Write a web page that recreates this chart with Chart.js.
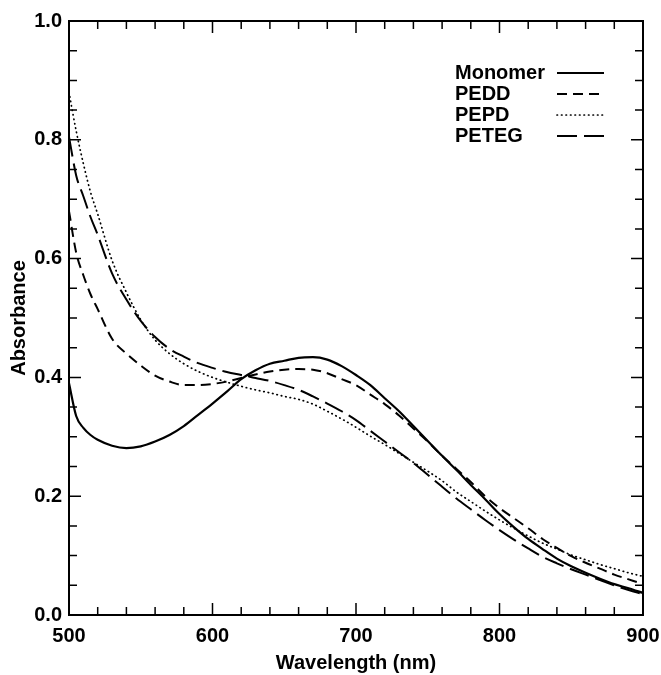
<!DOCTYPE html>
<html><head><meta charset="utf-8">
<script src="https://cdn.jsdelivr.net/npm/chart.js@4.4.1/dist/chart.umd.min.js"></script>
<style>html,body{margin:0;padding:0;background:#fff}canvas{display:block}</style>
</head><body>
<canvas id="c" width="661" height="675"></canvas>
<script>
const wavelengths = [500,505,510,515,520,530,540,550,560,570,580,590,600,610,620,630,640,650,660,670,680,690,700,710,720,730,740,750,760,770,780,790,800,810,820,830,840,850,860,870,880,890,900];
const monomer = [0.39,0.335,0.315,0.303,0.295,0.285,0.281,0.284,0.292,0.303,0.318,0.337,0.356,0.376,0.397,0.412,0.423,0.428,0.433,0.434,0.430,0.419,0.404,0.387,0.365,0.343,0.318,0.293,0.268,0.244,0.219,0.195,0.170,0.148,0.128,0.111,0.095,0.082,0.071,0.061,0.052,0.045,0.037];
const pedd = [0.68,0.61,0.572,0.54,0.515,0.465,0.44,0.42,0.403,0.393,0.387,0.387,0.389,0.393,0.399,0.405,0.410,0.413,0.414,0.413,0.407,0.397,0.387,0.371,0.355,0.336,0.314,0.292,0.268,0.246,0.224,0.200,0.180,0.163,0.146,0.128,0.113,0.099,0.088,0.078,0.068,0.060,0.052];
const pepd = [0.88,0.815,0.76,0.712,0.675,0.597,0.543,0.497,0.463,0.440,0.423,0.410,0.400,0.392,0.385,0.379,0.374,0.368,0.363,0.355,0.343,0.330,0.316,0.301,0.287,0.272,0.257,0.242,0.226,0.207,0.191,0.175,0.160,0.146,0.133,0.121,0.111,0.101,0.093,0.085,0.078,0.071,0.065];
const peteg = [0.805,0.74,0.705,0.67,0.64,0.575,0.531,0.495,0.468,0.448,0.435,0.424,0.416,0.409,0.404,0.399,0.394,0.387,0.379,0.368,0.356,0.343,0.328,0.310,0.292,0.274,0.256,0.236,0.216,0.196,0.178,0.160,0.143,0.127,0.112,0.098,0.087,0.077,0.068,0.059,0.050,0.042,0.035];
const seriesNames = ['Monomer','PEDD','PEPD','PETEG'];
const xTickLabels = [500,600,700,800,900];
const yTickLabels = [0.0,0.2,0.4,0.6,0.8,1.0];
const xMinorStep = 20;
const yMinorStep = 0.05;

const FONT = "'Liberation Sans', Arial, Helvetica, sans-serif";
const FS = 20;
const pts = arr => wavelengths.map((w,i)=>({x:w,y:arr[i]}));
const styles = [
  {borderDash:[], borderWidth:2.2},
  {borderDash:[10,6], borderWidth:2},
  {borderDash:[0.5,4], borderWidth:1.7, borderCapStyle:'round'},
  {borderDash:[20,7], borderWidth:2}
];
const seriesData = [monomer, pedd, pepd, peteg];
const datasets = seriesData.map((d,i)=>Object.assign({
  label: seriesNames[i], data: pts(d), borderColor:'#000', backgroundColor:'#000',
  pointRadius:0, fill:false, cubicInterpolationMode:'monotone'
}, styles[i]));

const framePlugin = {
  id:'frame',
  afterDraw(chart){
    const ctx = chart.ctx, a = chart.chartArea;
    const xs = chart.scales.x, ys = chart.scales.y;
    ctx.save();
    ctx.strokeStyle = '#000';
    ctx.lineWidth = 2;
    ctx.strokeRect(a.left, a.top, a.right-a.left, a.bottom-a.top);
    ctx.lineWidth = 1.5;
    ctx.beginPath();
    for (let v = xs.min; v <= xs.max + 1e-9; v += xMinorStep) {
      const p = xs.getPixelForValue(v);
      const len = xTickLabels.includes(Math.round(v)) ? 12 : 8;
      ctx.moveTo(p, a.bottom); ctx.lineTo(p, a.bottom - len);
      ctx.moveTo(p, a.top); ctx.lineTo(p, a.top + len);
    }
    for (let k = 0; k <= Math.round((ys.max-ys.min)/yMinorStep); k++) {
      const v = ys.min + k*yMinorStep;
      const p = ys.getPixelForValue(v);
      const major = yTickLabels.some(t=>Math.abs(t-v)<1e-6);
      const len = major ? 12 : 8;
      ctx.moveTo(a.left, p); ctx.lineTo(a.left + len, p);
      ctx.moveTo(a.right, p); ctx.lineTo(a.right - len, p);
    }
    ctx.stroke();
    // legend: text left, line sample right
    ctx.font = 'bold ' + FS + 'px ' + FONT;
    ctx.fillStyle = '#000';
    ctx.textAlign = 'left';
    ctx.textBaseline = 'middle';
    const tx = a.left + 386, sx0 = a.left + 488, sx1 = a.left + 535;
    chart.data.datasets.forEach((ds,i)=>{
      const y = a.top + 52 + i*21;
      ctx.fillText(ds.label, tx, y);
      ctx.save();
      ctx.lineWidth = ds.borderWidth;
      ctx.setLineDash(ds.borderDash || []);
      ctx.lineCap = ds.borderCapStyle || 'butt';
      ctx.beginPath(); ctx.moveTo(sx0, y); ctx.lineTo(sx1, y); ctx.stroke();
      ctx.restore();
    });
    ctx.restore();
  }
};

new Chart(document.getElementById('c'), {
  type:'line',
  data:{datasets},
  plugins:[framePlugin],
  options:{
    responsive:false, animation:false, devicePixelRatio:1,
    layout:{padding:{left:0, top:21, right:18, bottom:0}},
    plugins:{legend:{display:false}, tooltip:{enabled:false}},
    scales:{
      x:{
        type:'linear', min:500, max:900,
        afterBuildTicks: s => { s.ticks = xTickLabels.map(v=>({value:v})); },
        afterFit: s => { s.height = 60; s.paddingLeft = 0; s.paddingRight = 0; },
        grid:{display:false, drawTicks:false}, border:{display:false},
        ticks:{autoSkip:false, maxRotation:0, padding:9, color:'#000', font:{family:FONT, size:FS, weight:'bold'}},
        title:{display:true, text:'Wavelength (nm)', color:'#000', padding:{top:1,bottom:0}, font:{family:FONT, size:FS, weight:'bold'}}
      },
      y:{
        type:'linear', min:0, max:1,
        afterBuildTicks: s => { s.ticks = yTickLabels.map(v=>({value:v})); },
        afterFit: s => { s.width = 69; s.paddingTop = 0; s.paddingBottom = 0; },
        grid:{display:false, drawTicks:false}, border:{display:false},
        ticks:{autoSkip:false, padding:7, color:'#000', callback:v=>Number(v).toFixed(1), font:{family:FONT, size:FS, weight:'bold'}},
        title:{display:true, text:'Absorbance', color:'#000', padding:{top:7,bottom:0}, font:{family:FONT, size:FS, weight:'bold'}}
      }
    }
  }
});
</script>
</body></html>
